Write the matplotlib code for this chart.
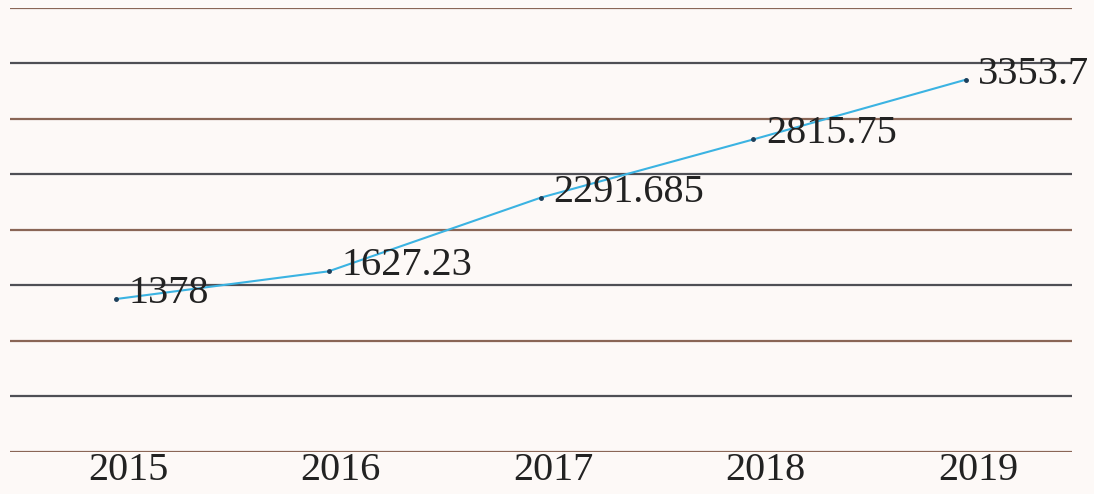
import matplotlib.pyplot as plt
import matplotlib.transforms as mtransforms

years = ["2015", "2016", "2017", "2018", "2019"]
values = [1378, 1627.23, 2291.685, 2815.75, 3353.7]
labels = ["1378", "1627.23", "2291.685", "2815.75", "3353.7"]
yticks = [0, 500, 1000, 1500, 2000, 2500, 3000, 3500, 4000]

plt.rcParams['font.family'] = ['Liberation Serif', 'DejaVu Serif']

fig = plt.figure(figsize=(10.94, 4.94), dpi=100, facecolor="#fdf9f7")
ax = fig.add_axes([0.009, 0.085, 0.971, 0.899])
ax.set_facecolor("#fdf9f7")

x = list(range(len(years)))

# gridlines
for i, t in enumerate(yticks):
    c = "#8a6656" if i % 2 == 0 else "#4f4f55"
    ax.axhline(t, color=c, lw=1.6, zorder=1)

ax.plot(x, values, color="#3bb3e2", lw=1.5, marker="o", markersize=2.5,
        markerfacecolor="#1d3f5a", markeredgecolor="#1d3f5a", zorder=3)

for xi, v, lab in zip(x, values, labels):
    ax.annotate(lab, (xi, v), xytext=(9, 4), textcoords="offset points",
                ha="left", va="center", fontsize=29, color="#222222", zorder=4)

ax.set_xlim(-0.5, 4.5)
ax.set_ylim(0, 4000)
ax.set_xticks(x)
ax.set_xticklabels(years, fontsize=29, color="#222222")
ax.set_yticks([])
ax.tick_params(axis="x", length=0, pad=0)

shift = mtransforms.ScaledTranslation(12 / 100, 0, fig.dpi_scale_trans)
for lbl in ax.get_xticklabels():
    lbl.set_transform(lbl.get_transform() + shift)

for s in ax.spines.values():
    s.set_visible(False)

fig.savefig("out.png", dpi=100, facecolor=fig.get_facecolor())
